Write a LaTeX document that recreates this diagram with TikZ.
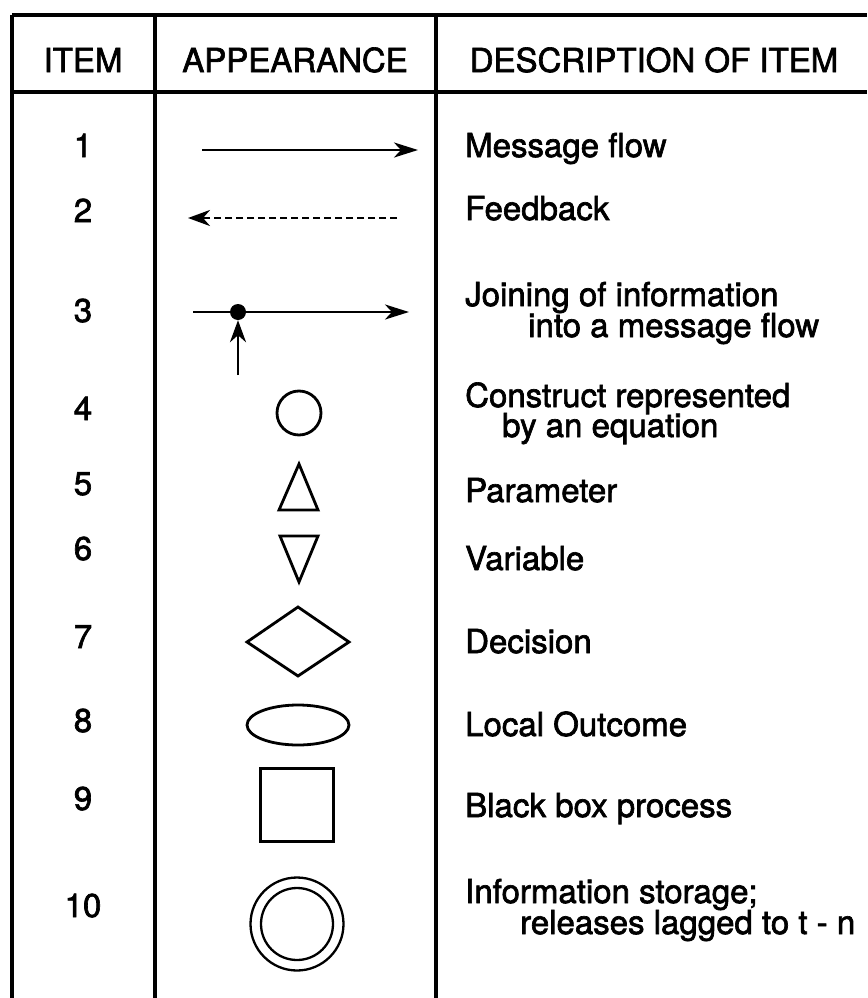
\documentclass[tikz,border=0pt]{standalone}
\usepackage{fontspec}
\newfontfamily\hv{TeX Gyre Heros}[FakeBold=2]
\usetikzlibrary{arrows.meta,shapes.geometric}
\begin{document}
\begin{tikzpicture}[x=1pt,y=-1pt,
  rule/.style={line width=3.2pt},
  txt/.style={font=\hv\fontsize{33}{36}\selectfont, inner sep=0pt},
  num/.style={txt, anchor=base},
  desc/.style={txt, anchor=base west},
  hdr/.style={txt, anchor=base},
  shp/.style={draw, line width=2.8pt, inner sep=0pt},
  flow/.style={line width=2.8pt, -{Stealth[length=24pt,width=15pt,inset=7pt]}},
  back/.style={line width=2.8pt, dash pattern=on 7pt off 4pt, -{Stealth[length=22pt,width=16pt,inset=7pt]}},
  upar/.style={line width=2.8pt, -{Stealth[length=22pt,width=16pt,inset=7pt]}}
]
\useasboundingbox (0,0) rectangle (867,998);
% table rules
\draw[rule] (12,15) -- (867,15);
\draw[rule] (12,92) -- (867,92);
\draw[rule] (12,15) -- (12,998);
\draw[rule] (155,15) -- (155,998);
\draw[rule] (436,15) -- (436,998);
% header
\node[hdr] (h1) at (83,72) {ITEM};
\node[hdr] (h2) at (295,72) {APPEARANCE};
\node[hdr] (h3) at (654,72) {DESCRIPTION OF ITEM};
% numbers
\node[num] (n1) at (83,157) {1};
\node[num] (n2) at (83,222) {2};
\node[num] (n3) at (83,322) {3};
\node[num] (n4) at (83,420) {4};
\node[num] (n5) at (83,495) {5};
\node[num] (n6) at (83,560) {6};
\node[num] (n7) at (83,648) {7};
\node[num] (n8) at (83,732) {8};
\node[num] (n9) at (83,810) {9};
\node[num] (n10) at (83,917) {10};
% descriptions
\node[desc] (d1) at (465,157) {Message flow};
\node[desc] (d2) at (465,220) {Feedback};
\node[desc] (d3a) at (465,306) {Joining of information};
\node[desc] (d3b) at (528,337) {into a message flow};
\node[desc] (d4a) at (465,407) {Construct represented};
\node[desc] (d4b) at (502,437) {by an equation};
\node[desc] (d5) at (465,502) {Parameter};
\node[desc] (d6) at (465,570) {Variable};
\node[desc] (d7) at (465,653) {Decision};
\node[desc] (d8) at (465,736) {Local Outcome};
\node[desc] (d9) at (465,817) {Black box process};
\node[desc] (d10a) at (465,903) {Information storage;};
\node[desc] (d10b) at (520,934) {releases lagged to t - n};
% 1 message flow
\coordinate (a1s) at (202,150);
\coordinate (a1e) at (418,150);
\draw[flow] (a1s) -- (a1e);
% 2 feedback
\coordinate (a2s) at (397,218);
\coordinate (a2e) at (188,218);
\draw[back] (a2s) -- (a2e);
% 3 joining
\coordinate (a3s) at (193,312);
\coordinate (a3e) at (409,312);
\draw[flow] (a3s) -- (a3e);
\node[circle, fill, minimum size=16pt, inner sep=0pt] (dot) at (238,312) {};
\coordinate (a3u) at (238,375);
\draw[upar] (a3u) -- (dot.south);
% 4 circle
\node[shp, circle, minimum size=44pt] (c4) at (299,413) {};
% 5 triangle up
\draw[line width=2.8pt, line join=miter] (299,464) -- (318,510) -- (279,510) -- cycle;
% 6 triangle down
\draw[line width=2.8pt, line join=miter] (280,536) -- (318,536) -- (299,582) -- cycle;
% 7 diamond
\draw[line width=2.8pt, line join=miter] (298,607) -- (349,642) -- (298,676) -- (247,642) -- cycle;
% 8 ellipse
\node[shp, ellipse, minimum width=102pt, minimum height=40pt] (e8) at (298,725) {};
% 9 square
\node[shp, rectangle, minimum width=73pt, minimum height=73pt] (s9) at (297,805) {};
% 10 double circle
\node[draw, line width=2.3pt, circle, minimum size=93pt, inner sep=0pt] (c10o) at (297,924) {};
\node[draw, line width=2.3pt, circle, minimum size=72pt, inner sep=0pt] (c10i) at (297,924) {};
\end{tikzpicture}
\end{document}
